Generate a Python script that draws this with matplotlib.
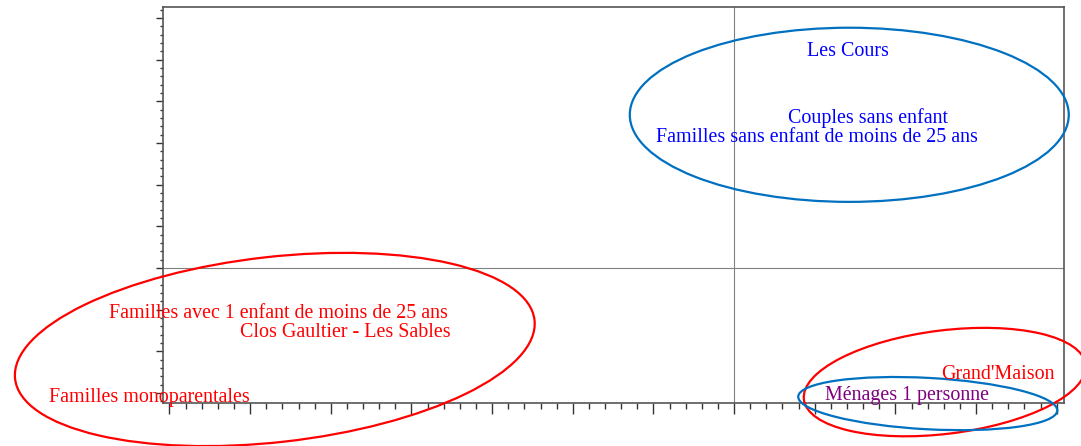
import matplotlib
matplotlib.use("Agg")
import matplotlib.pyplot as plt
from matplotlib.patches import Ellipse
from matplotlib.ticker import MultipleLocator, NullFormatter

plt.rcParams['font.family'] = ['Liberation Serif', 'DejaVu Serif']

# ---- data ----
labels = ["Les Cours", "Couples sans enfant",
          "Familles sans enfant de moins de 25 ans",
          "Familles avec 1 enfant de moins de 25 ans",
          "Clos Gaultier - Les Sables", "Familles monoparentales",
          "Grand'Maison", "Ménages 1 personne"]
label_x = [1.407, 1.655, 1.021, -5.652, -4.820, -7.243, 3.267, 2.145]
label_y = [2.537, 1.744, 1.509, -0.604, -0.832, -1.605, -1.336, -1.585]
label_colors = ["#0000ff", "#0000ff", "#0000ff", "#ff0000", "#ff0000",
                "#ff0000", "#ff0000", "#800080"]

ell_cx = [1.428, -5.694, 2.612, 2.401]
ell_cy = [1.837, -0.978, -1.369, -1.627]
ell_w = [5.442, 6.478, 3.518, 3.216]
ell_h = [2.089, 2.223, 1.241, 0.616]
ell_angle = [0.0, 6.2, 6.8, -3.0]
ell_colors = ["#0070c0", "#ff0000", "#ff0000", "#0070c0"]

xlim = (-7.08, 4.09)
ylim = (-1.62, 3.13)

# ---- figure ----
fig = plt.figure(figsize=(10.81, 4.46), dpi=100)
ax = fig.add_axes([163/1081, 43/446, (1064-163)/1081, (403-7)/446])
ax.set_xlim(*xlim)
ax.set_ylim(*ylim)

ax.axvline(0, color="#808080", lw=0.8, zorder=1)
ax.axhline(0, color="#808080", lw=0.8, zorder=1)

for cx, cy, w, h, a, c in zip(ell_cx, ell_cy, ell_w, ell_h, ell_angle, ell_colors):
    e = Ellipse((cx, cy), w, h, angle=a, fill=False, edgecolor=c, lw=1.6,
                clip_on=False, zorder=3)
    ax.add_patch(e)

for t, x, y, c in zip(labels, label_x, label_y, label_colors):
    ax.text(x, y, t, color=c, fontsize=14.4, ha="center", va="baseline",
            clip_on=False, zorder=4)

for s in ax.spines.values():
    s.set_color("#555555")
    s.set_linewidth(1.2)

ax.xaxis.set_major_locator(MultipleLocator(1.0))
ax.xaxis.set_minor_locator(MultipleLocator(0.2))
ax.yaxis.set_major_locator(MultipleLocator(0.5))
ax.yaxis.set_minor_locator(MultipleLocator(0.1))
ax.xaxis.set_major_formatter(NullFormatter())
ax.yaxis.set_major_formatter(NullFormatter())
ax.tick_params(axis="x", which="major", direction="out", length=7.7, width=1.0, color="#333333")
ax.tick_params(axis="x", which="minor", direction="out", length=4.1, width=1.0, color="#333333")
ax.tick_params(axis="y", which="major", direction="out", length=5.0, width=1.0, color="#333333")
ax.tick_params(axis="y", which="minor", direction="out", length=2.4, width=1.0, color="#333333")

fig.savefig("out.png", dpi=100)
